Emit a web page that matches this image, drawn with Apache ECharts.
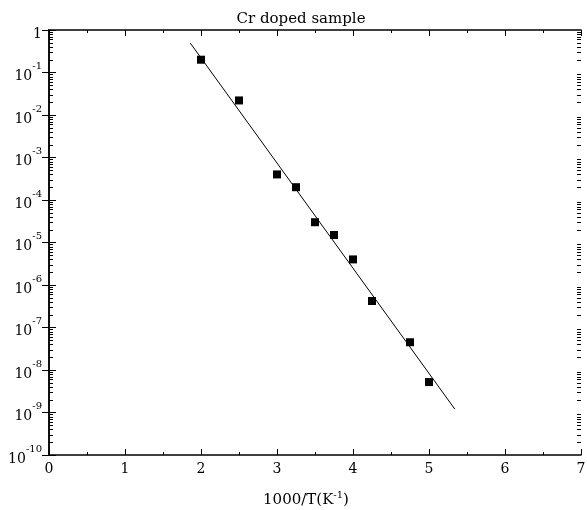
<!DOCTYPE html>
<html>
<head>
<meta charset="utf-8">
<script src="https://cdn.jsdelivr.net/npm/echarts@6/dist/echarts.min.js"></script>
<style>
  html, body { margin: 0; padding: 0; background: #fff; }
  #main { width: 587px; height: 510px; }
</style>
</head>
<body>
<div id="main"></div>
<script>
// measured points (1000/T, value)
var invT = [2.0, 2.5, 3.0, 3.25, 3.5, 3.75, 4.0, 4.25, 4.75, 5.0];
var sigma = [0.2, 0.022, 4e-4, 2e-4, 3e-5, 1.5e-5, 4e-6, 4.2e-7, 4.5e-8, 5.2e-9];
// fitted line ends
var fitX = [1.86, 5.34];
var fitY = [0.49, 1.2e-9];
// log axis decades and minor tick multipliers
var decades = [-10, -9, -8, -7, -6, -5, -4, -3, -2, -1];
var minorMult = [2, 3, 4, 5, 6, 7, 8, 9];

var font = "DejaVu Serif";

var minorVals = [];
decades.forEach(function (d) {
  minorMult.forEach(function (k) { minorVals.push([0, k * Math.pow(10, d)]); });
});

function yLabel(v) {
  var e = Math.round(Math.log10(v));
  if (e === 0) return "{b|1}";
  return "{b|10}{s|" + e + "}";
}

var chart = echarts.init(document.getElementById("main"));
chart.setOption({
  animation: false,
  title: {
    text: "Cr doped sample",
    left: 296,
    top: 7,
    textAlign: "center",
    textStyle: { fontFamily: font, fontSize: 15, fontWeight: "normal", color: "#000" }
  },
  grid: { left: 49, top: 30, right: 6, bottom: 55, outerBoundsMode: "none" },
  xAxis: [
    {
      type: "value",
      min: 0,
      max: 7,
      interval: 1,
      name: "1000/T(K{s|-1})",
      nameLocation: "middle",
      nameGap: 35,
      nameTextStyle: {
        fontFamily: font, fontSize: 15, color: "#000",
        padding: [0, 18, 0, 0],
        rich: {
          s: { fontSize: 10, verticalAlign: "top", lineHeight: 20, fontFamily: font }
        }
      },
      axisLine: { lineStyle: { color: "#000", width: 1.5 } },
      axisTick: { inside: true, length: 6, lineStyle: { color: "#000" } },
      minorTick: { show: true, splitNumber: 2, length: 3, lineStyle: { color: "#000" } },
      splitLine: { show: false },
      axisLabel: { fontFamily: font, fontSize: 14, color: "#000", margin: 7 }
    },
    {
      type: "value",
      position: "top",
      min: 0,
      max: 7,
      interval: 1,
      axisLine: { show: true, lineStyle: { color: "#000", width: 1.5 } },
      axisTick: { inside: true, length: 6, lineStyle: { color: "#000" } },
      minorTick: { show: true, splitNumber: 2, length: 3, lineStyle: { color: "#000" } },
      splitLine: { show: false },
      axisLabel: { show: false }
    }
  ],
  yAxis: [
    {
      type: "log",
      logBase: 10,
      min: 1e-10,
      max: 1,
      interval: 1,
      axisLine: { show: true, lineStyle: { color: "#000", width: 1.5 } },
      axisTick: { inside: true, length: 7, lineStyle: { color: "#000" } },
      splitLine: { show: false },
      axisLabel: {
        margin: 7,
        formatter: yLabel,
        rich: {
          b: { fontFamily: font, fontSize: 14, color: "#000", verticalAlign: "bottom", lineHeight: 22 },
          s: { fontFamily: font, fontSize: 10, color: "#000", verticalAlign: "top", lineHeight: 22 }
        }
      }
    },
    {
      type: "log",
      logBase: 10,
      position: "right",
      min: 1e-10,
      max: 1,
      interval: 1,
      axisLine: { show: true, lineStyle: { color: "#000", width: 1.5 } },
      axisTick: { inside: true, length: 7, lineStyle: { color: "#000" } },
      splitLine: { show: false },
      axisLabel: { show: false }
    }
  ],
  series: [
    {
      // log minor ticks on left and right frames
      type: "custom",
      data: minorVals,
      silent: true,
      clip: false,
      z: 5,
      encode: { x: 0, y: 1 },
      renderItem: function (params, api) {
        var v = api.value(1);
        var p = api.coord([0, v]);
        var cs = params.coordSys;
        var x0 = cs.x;
        var x1 = cs.x + cs.width;
        var y = Math.round(p[1]) + 0.5;
        return {
          type: "group",
          children: [
            { type: "rect", shape: { x: x0, y: y - 0.5, width: 4, height: 1 }, style: { fill: "#000" } },
            { type: "rect", shape: { x: x1 - 4, y: y - 0.5, width: 4, height: 1 }, style: { fill: "#000" } }
          ]
        };
      }
    },
    {
      type: "line",
      data: fitX.map(function (x, i) { return [x, fitY[i]]; }),
      showSymbol: false,
      lineStyle: { color: "#000", width: 1 },
      z: 2
    },
    {
      type: "scatter",
      data: invT.map(function (x, i) { return [x, sigma[i]]; }),
      symbol: "rect",
      symbolSize: 8,
      itemStyle: { color: "#000", opacity: 1 },
      z: 3
    }
  ]
});
</script>
</body>
</html>
